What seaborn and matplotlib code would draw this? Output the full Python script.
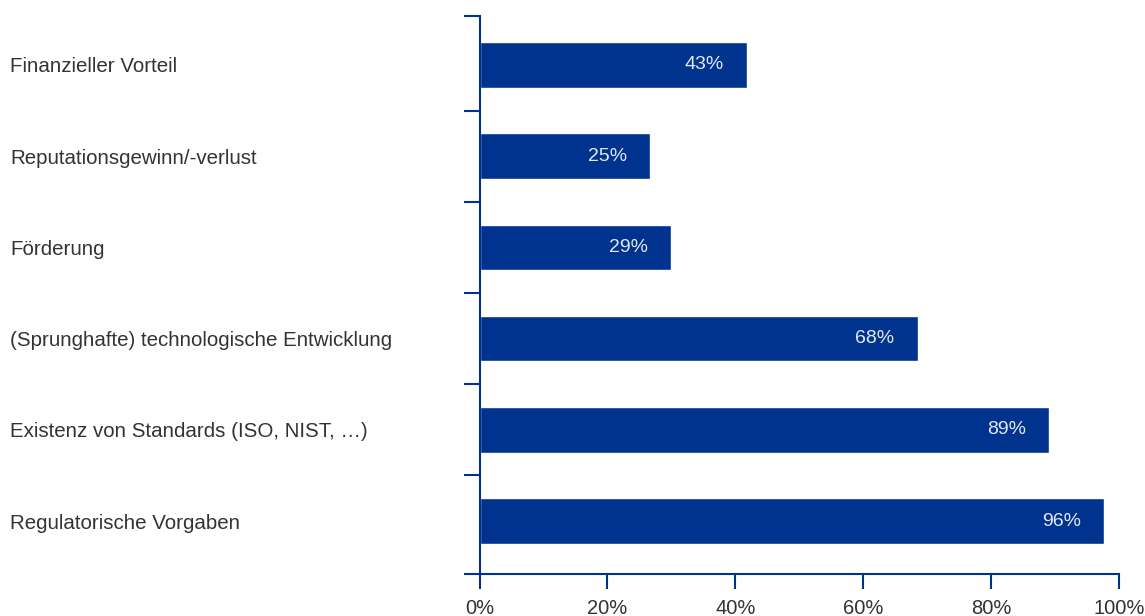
import numpy as np
import pandas as pd
import seaborn as sns
from matplotlib import pyplot as plt
from matplotlib.ticker import FuncFormatter

# data
categories = ["Finanzieller Vorteil",
              "Reputationsgewinn/-verlust",
              "Förderung",
              "(Sprunghafte) technologische Entwicklung",
              "Existenz von Standards (ISO, NIST, …)",
              "Regulatorische Vorgaben"]
bar_values = [41.9, 26.7, 30.0, 68.6, 89.1, 97.7]
bar_labels = ["43%", "25%", "29%", "68%", "89%", "96%"]

df = pd.DataFrame({"Kategorie": categories, "Anteil": bar_values})

sns.set_theme(style="white")
plt.rcParams['font.family'] = ['Liberation Sans', 'DejaVu Sans']

navy = "#00338D"
txt = "#333333"

fig = plt.figure(figsize=(11.45, 6.16), dpi=100)
ax = fig.add_axes([479.5 / 1145, 1 - 574 / 616, (1119 - 479.5) / 1145, (574 - 16) / 616])

sns.barplot(data=df, y="Kategorie", x="Anteil", orient="h", color=navy,
            saturation=1, width=0.5, ax=ax)

y_top, y_bot = -0.537, len(categories) - 0.42
ax.set_xlim(0, 100)
ax.set_ylim(y_bot, y_top)
ax.set_xlabel("")
ax.set_ylabel("")

# bar value labels inside the bar end
for i, (v, lab) in enumerate(zip(bar_values, bar_labels)):
    ax.annotate(lab, xy=(v, i), xytext=(-17, 0), textcoords="offset points",
                ha="right", va="center", color="#e3e9f4", fontsize=14)

# x axis
ax.set_xticks(np.arange(0, 101, 20))
ax.xaxis.set_major_formatter(FuncFormatter(lambda x, _: f"{x:.0f}%"))
ax.tick_params(axis="x", direction="out", length=11, width=1.5, color=navy,
               labelsize=14.5, labelcolor=txt, pad=7, bottom=True)

# y axis: labels at far left, ticks between categories
ax.set_yticks(range(len(categories)))
ax.set_yticklabels(categories)
ax.tick_params(axis="y", which="major", length=0, pad=338, labelsize=14.8, labelcolor=txt)
for t in ax.get_yticklabels():
    t.set_horizontalalignment("left")
ax.set_yticks([y_top] + list(np.arange(0.5, len(categories) - 1, 1)) + [y_bot], minor=True)
ax.tick_params(axis="y", which="minor", direction="out", length=11.5, width=1.5,
               color=navy, left=True)

for s in ["top", "right"]:
    ax.spines[s].set_visible(False)
for s in ["left", "bottom"]:
    ax.spines[s].set_color(navy)
    ax.spines[s].set_linewidth(1.5)

fig.savefig("out.png", dpi=100)
